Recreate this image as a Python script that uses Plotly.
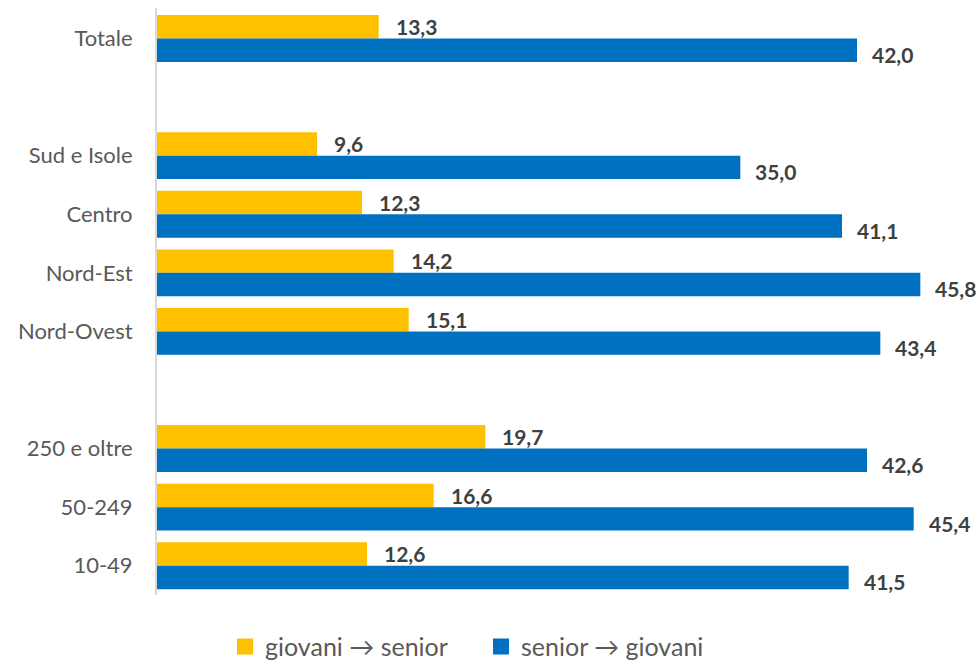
import plotly.graph_objects as go

categories = ["Totale", " ", "Sud e Isole", "Centro", "Nord-Est", "Nord-Ovest", "  ",
              "250 e oltre", "50-249", "10-49"]
giovani_senior = [13.3, None, 9.6, 12.3, 14.2, 15.1, None, 19.7, 16.6, 12.6]
senior_giovani = [42.0, None, 35.0, 41.1, 45.8, 43.4, None, 42.6, 45.4, 41.5]
series_names = ["giovani \u2192 senior", "senior \u2192 giovani"]

YELLOW = "#FFC000"
BLUE = "#0070C0"
FONT = "Lato"

fig = go.Figure()
fig.add_trace(go.Bar(y=categories, x=giovani_senior, orientation="h",
                     marker=dict(color=YELLOW, line=dict(width=0)),
                     name=series_names[0], showlegend=False))
fig.add_trace(go.Bar(y=categories, x=senior_giovani, orientation="h",
                     marker=dict(color=BLUE, line=dict(width=0)),
                     name=series_names[1], showlegend=False))
# legend entries
for nm, col in zip(series_names, [YELLOW, BLUE]):
    fig.add_trace(go.Scatter(x=[None], y=[None], mode="markers", name=nm,
                             marker=dict(symbol="square", size=16, color=col)))

def fmt(v):
    return f"{v:.1f}".replace(".", ",")

annotations = []
for cat, v in zip(categories, giovani_senior):
    if v is None:
        continue
    annotations.append(dict(x=v, y=cat, text=f"<b>{fmt(v)}</b>", showarrow=False,
                            xanchor="left", yanchor="middle", xshift=15, yshift=12,
                            font=dict(family=FONT, size=21, color="#404040")))
for cat, v in zip(categories, senior_giovani):
    if v is None:
        continue
    annotations.append(dict(x=v, y=cat, text=f"<b>{fmt(v)}</b>", showarrow=False,
                            xanchor="left", yanchor="middle", xshift=13, yshift=-16,
                            font=dict(family=FONT, size=21, color="#404040")))

fig.update_layout(
    width=979, height=665,
    margin=dict(l=157, r=22, t=8, b=70, autoexpand=False),
    paper_bgcolor="white", plot_bgcolor="white",
    barmode="group", bargap=0.2, bargroupgap=0,
    font=dict(family=FONT, color="#595959"),
    annotations=annotations,
    legend=dict(orientation="h", x=0.085, xanchor="left", y=-0.088, yanchor="middle",
                entrywidth=211, entrywidthmode="pixels",
                font=dict(family=FONT, size=25, color="#595959"),
                traceorder="normal"),
    showlegend=True,
)
fig.update_xaxes(range=[0, 48], showgrid=False, zeroline=False, showticklabels=False,
                 showline=False)
fig.update_yaxes(type="category", categoryorder="array", categoryarray=categories,
                 autorange="reversed", showgrid=False, zeroline=False,
                 showline=True, linecolor="#D9D9D9", linewidth=2, ticks="",
                 ticklabelstandoff=18,
                 tickfont=dict(family=FONT, size=22, color="#595959"))

fig.write_html("out.html")
